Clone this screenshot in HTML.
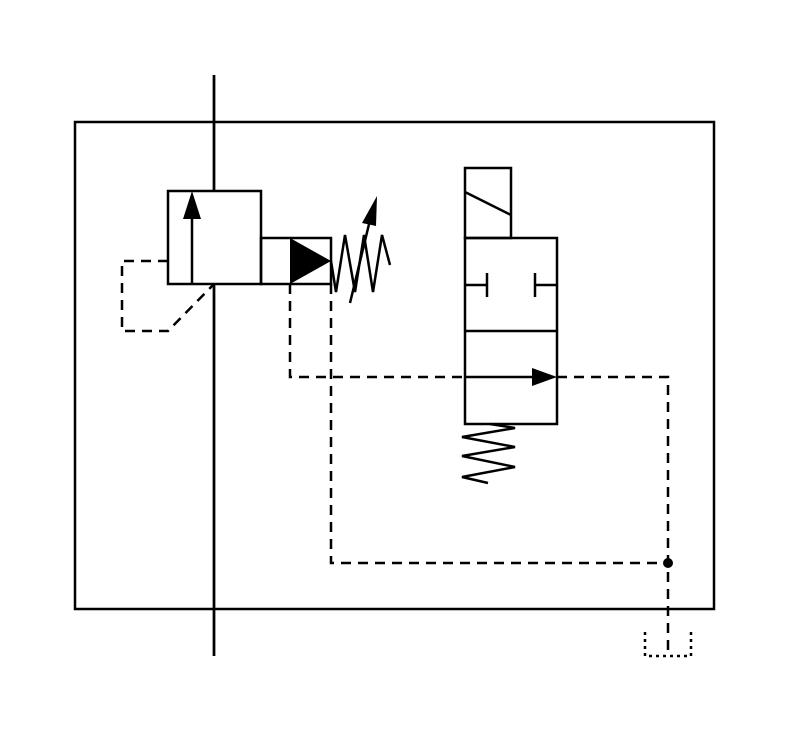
<!DOCTYPE html>
<html><head><style>html,body{margin:0;padding:0;background:#fff}</style></head><body>
<svg width="791" height="734" viewBox="0 0 791 734" xmlns="http://www.w3.org/2000/svg">
<g fill="none" stroke="#000" stroke-width="2.5">
<rect x="75" y="122" width="639" height="487"/>
<line x1="214" y1="75" x2="214" y2="656"/>
<rect x="168" y="191" width="93" height="93" fill="#fff"/>
<line x1="214" y1="75" x2="214" y2="191"/>
<line x1="214" y1="284" x2="214" y2="656"/>
<line x1="192" y1="284" x2="192" y2="215"/>
<rect x="261" y="238" width="70" height="46"/>
<polyline points="331,261 336,292 345,235 355,292 364,235 373,292 382,235 390,265"/>
<line x1="350" y1="303" x2="370" y2="220"/>
<g stroke-dasharray="10,7">
<polyline points="168,261 122,261 122,331 168,331 214,284"/>
<polyline points="290,284 290,377 465,377"/>
<polyline points="557,377 668,377 668,656"/>
<polyline points="331,284 331,563 668,563"/>
</g>
<polyline points="645,632 645,656 691,656 691,632" stroke-dasharray="3,4"/>
<rect x="465" y="168" width="46" height="70"/>
<line x1="465" y1="192" x2="511" y2="215"/>
<rect x="465" y="238" width="92" height="186"/>
<line x1="465" y1="331" x2="557" y2="331"/>
<line x1="465" y1="285" x2="487" y2="285"/>
<line x1="487" y1="273" x2="487" y2="297"/>
<line x1="557" y1="285" x2="535" y2="285"/>
<line x1="535" y1="273" x2="535" y2="297"/>
<line x1="465" y1="377" x2="535" y2="377"/>
<polyline points="490,424 515,428 462,437 515,447 462,456 515,467 462,477 488,483"/>
</g>
<g fill="#000">
<polygon points="192,191 183,219 201,219"/>
<polygon points="290,238 331,261 290,284"/>
<polygon points="377,196 362,223 376,226"/>
<polygon points="557,377 532,368 532,386"/>
<circle cx="668" cy="563" r="5"/>
</g>
</svg>
</body></html>
